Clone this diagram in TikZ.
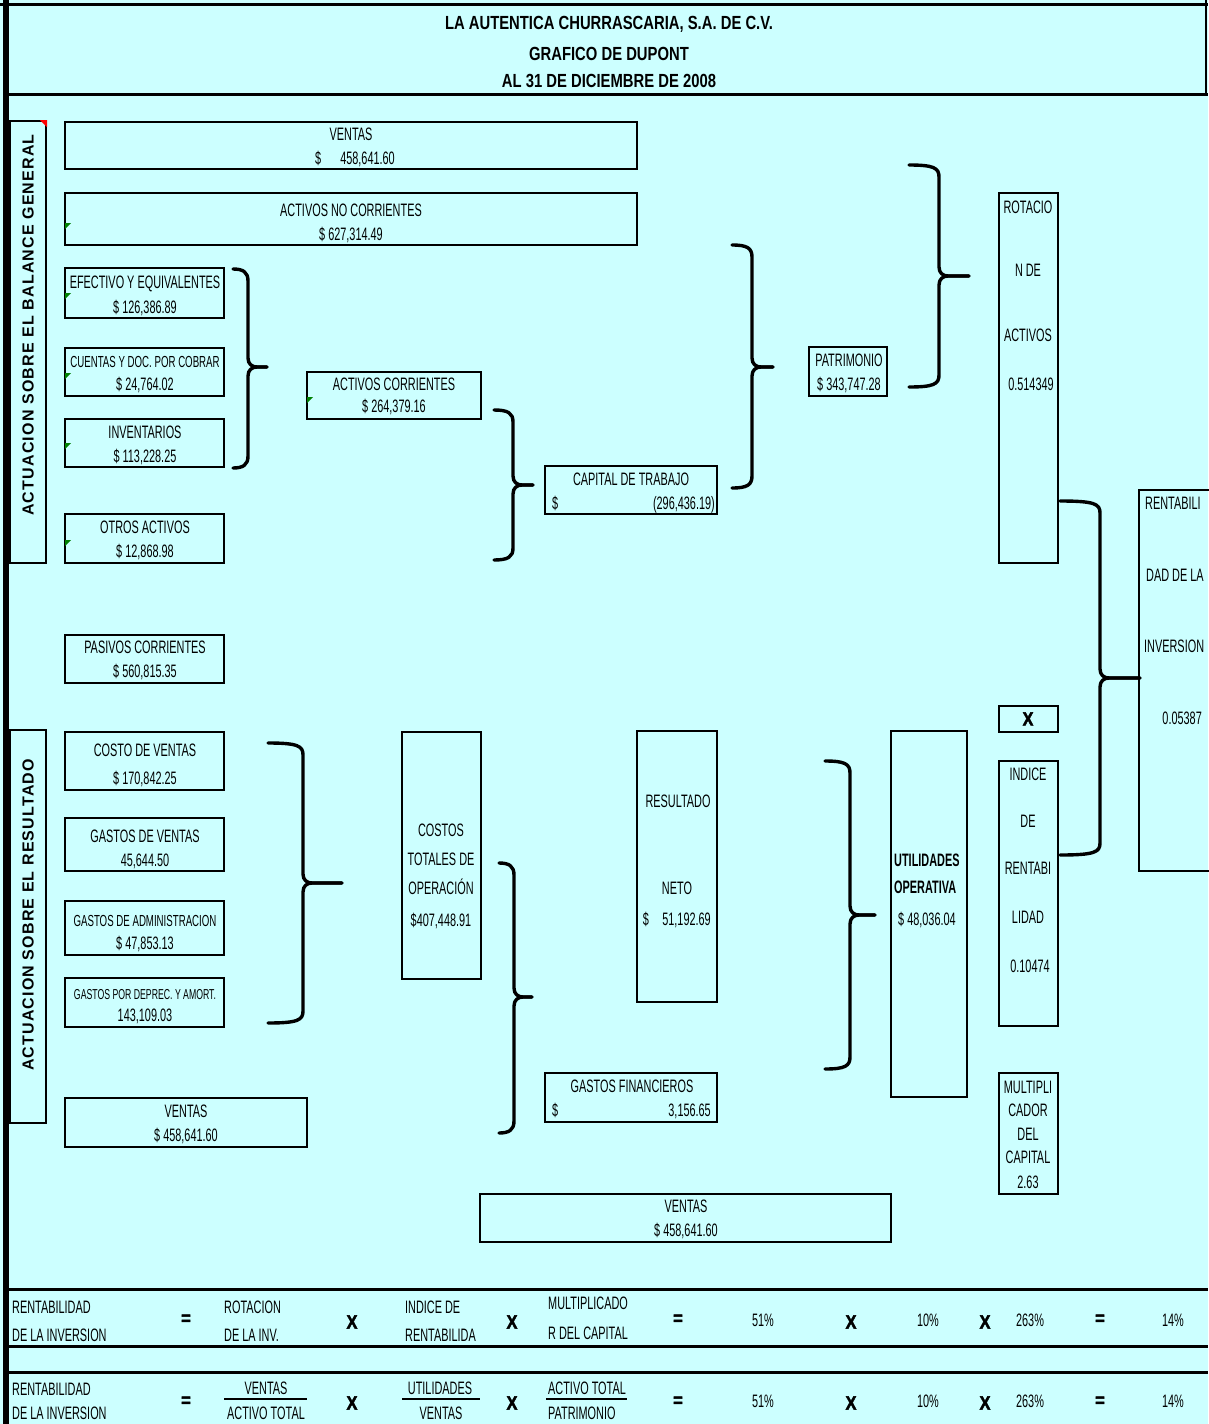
\documentclass[tikz,border=0pt]{standalone}
\usepackage{fontspec}
\setmainfont{Liberation Sans}[FakeStretch=0.605]
\newfontfamily\titlefont{Liberation Sans}[FakeStretch=0.78]
\newfontfamily\xfont{Liberation Sans}[FakeStretch=0.85, FakeBold=2.5]
\newfontfamily\sidefont{Liberation Sans}[LetterSpace=7.3]
\definecolor{bgc}{RGB}{204,255,255}
\tikzset{
  boxst/.style={draw=black, line width=1.2pt, anchor=north west, inner sep=0pt, outer sep=0pt},
  secst/.style={draw=black, line width=2.2pt, anchor=north west, inner sep=0pt, outer sep=0pt},
  txt/.style={inner sep=0pt, font=\fontsize{18}{20}\selectfont},
  smalltxt/.style={font=\fontsize{16}{18}\selectfont},
  tinytxt/.style={font=\fontsize{14.4}{16}\selectfont},
  boldtxt/.style={font=\fontsize{18}{20}\selectfont\bfseries},
  ttl/.style={font={\titlefont\bfseries\fontsize{19}{21}\selectfont}},
  opx/.style={font={\xfont\bfseries\fontsize{19}{21}\selectfont}},
  sidest/.style={inner sep=0pt, rotate=90, font={\sidefont\bfseries\fontsize{16}{18}\selectfont}},
  bracest/.style={line width=3.4pt, line cap=round, line join=round},
  framest/.style={line width=3pt},
  rowline/.style={line width=3pt},
  fracline/.style={line width=1.2pt},
}
\newcommand\bx[5]{\node[boxst, minimum width={(#4)-(#2)}, minimum height={(#5)-(#3)}] (#1) at (#2,#3) {};}
\newcommand\txc[5][]{\node[txt,anchor=base,#1] (#2) at (#3,{#4+6.5}) {#5};}
\newcommand\txl[5][]{\node[txt,anchor=base west,#1] (#2) at (#3,{#4+6.5}) {#5};}
\newcommand\txr[5][]{\node[txt,anchor=base east,#1] (#2) at (#3,{#4+6.5}) {#5};}
% name xl xv xt yt ym yb
\newcommand\cbr[7]{%
  \coordinate (#1) at (#4,#6);
  \draw[bracest] (#2,#5) .. controls ({#3-5},#5) and (#3,{#5+3}) .. (#3,{#5+12}) -- (#3,{#6-9}) .. controls (#3,{#6-3}) and ({#3+4},#6) .. ({#3+9},#6) -- (#1);
  \draw[bracest] (#2,#7) .. controls ({#3-5},#7) and (#3,{#7-3}) .. (#3,{#7-12}) -- (#3,{#6+9}) .. controls (#3,{#6+3}) and ({#3+4},#6) .. ({#3+9},#6) -- (#1);
}
\newcommand\gmark[2]{\fill[green!50!black] (#1,#2) -- ({#1+6},#2) -- (#1,{#2+6}) -- cycle;}
\begin{document}
\begin{tikzpicture}[x=1pt,y=-1pt]
\useasboundingbox (0,0) rectangle (1208,1424);
\fill[bgc] (0,0) rectangle (1208,1424);
% frame
\draw[framest] (0,4) -- (1208,4);
\draw[line width=6pt] (6,0) -- (6,1424);
\draw[framest] (6,94) -- (1208,94);
\draw[line width=2pt] (1206,0) -- (1206,94);
\draw[rowline] (6,1289) -- (1208,1289);
\draw[rowline] (6,1346) -- (1208,1346);
\draw[rowline] (6,1372) -- (1208,1372);
% title
\txc[ttl]{t1}{609}{23}{LA AUTENTICA CHURRASCARIA, S.A. DE C.V.}
\txc[ttl]{t2}{609}{54}{GRAFICO DE DUPONT}
\txc[ttl]{t3}{609}{81}{AL 31 DE DICIEMBRE DE 2008}
% section boxes
\node[secst, minimum width=36, minimum height=442] (secbal) at (10,121) {};
\node[secst, minimum width=36, minimum height=393] (secres) at (10,730) {};
\fill[red] (40,120) -- (47,120) -- (47,127) -- cycle;
\node[sidest] (sidebal) at (28,325) {ACTUACION SOBRE EL BALANCE GENERAL};
\node[sidest] (sideres) at (28,915) {ACTUACION SOBRE EL RESULTADO};
% boxes
\bx{ventas1}{65}{122}{637}{169}
\bx{anc}{65}{193}{637}{245}
\bx{ef}{65}{268}{224}{318}
\bx{cu}{65}{348}{224}{396}
\bx{inv}{65}{419}{224}{467}
\bx{otros}{65}{514}{224}{563}
\bx{ac}{307}{372}{481}{419}
\bx{ct}{545}{466}{717}{514}
\bx{pat}{809}{347}{887}{396}
\bx{rot}{999}{193}{1058}{563}
\bx{rent}{1139}{490}{1215}{871}
\bx{xbox}{999}{706}{1058}{732}
\bx{ind}{999}{761}{1058}{1026}
\bx{mult}{999}{1073}{1058}{1194}
\bx{pas}{65}{635}{224}{683}
\bx{cv}{65}{732}{224}{790}
\bx{gv}{65}{818}{224}{871}
\bx{ga}{65}{901}{224}{955}
\bx{gd}{65}{978}{224}{1027}
\bx{ventas2}{65}{1098}{307}{1147}
\bx{cto}{402}{732}{481}{979}
\bx{rn}{637}{731}{717}{1002}
\bx{uo}{891}{731}{967}{1097}
\bx{gf}{545}{1073}{717}{1122}
\bx{ventas3}{480}{1194}{891}{1242}
% comment marks
\gmark{65}{223}
\gmark{65}{293}
\gmark{65}{373}
\gmark{65}{443}
\gmark{65}{540}
\gmark{307}{397}
% box texts
\txc{v1a}{351}{134}{VENTAS}
\txc{v1b}{355}{158}{\$\hspace{19pt}458,641.60}
\txc{anca}{351}{210}{ACTIVOS NO CORRIENTES}
\txc{ancb}{351}{234}{\$ 627,314.49}
\txc{efa}{145}{282}{EFECTIVO Y EQUIVALENTES}
\txc{efb}{145}{307}{\$ 126,386.89}
\txc[smalltxt]{cua}{145}{361}{CUENTAS Y DOC. POR COBRAR}
\txc{cub}{145}{384}{\$ 24,764.02}
\txc{inva}{145}{432}{INVENTARIOS}
\txc{invb}{145}{456}{\$ 113,228.25}
\txc{ota}{145}{527}{OTROS ACTIVOS}
\txc{otb}{145}{551}{\$ 12,868.98}
\txc{aca}{394}{384}{ACTIVOS CORRIENTES}
\txc{acb}{394}{406}{\$ 264,379.16}
\txc{cta}{631}{479}{CAPITAL DE TRABAJO}
\txl{ctb}{552}{503}{\$}
\txr{ctc}{715}{503}{(296,436.19)}
\txc{pata}{849}{360}{PATRIMONIO}
\txc{patb}{849}{384}{\$ 343,747.28}
\txc{rota}{1028}{207}{ROTACIO}
\txc{rotb}{1028}{270}{N DE}
\txc{rotc}{1028}{335}{ACTIVOS}
\txc{rotd}{1031}{384}{0.514349}
\txl{renta}{1145}{503}{RENTABILI}
\txl{rentb}{1146}{575}{DAD DE LA}
\txl{rentc}{1144}{646}{INVERSION}
\txr{rentd}{1202}{718}{0.05387}
\txc[opx]{xx}{1028}{719}{X}
\txc{inda}{1028}{774}{INDICE}
\txc{indb}{1028}{821}{DE}
\txc{indc}{1028}{868}{RENTABI}
\txc{indd}{1028}{917}{LIDAD}
\txc{inde}{1030}{966}{0.10474}
\txc{mua}{1028}{1087}{MULTIPLI}
\txc{mub}{1028}{1110}{CADOR}
\txc{muc}{1028}{1134}{DEL}
\txc{mud}{1028}{1157}{CAPITAL}
\txc{mue}{1028}{1182}{2.63}
\txc{pasa}{145}{647}{PASIVOS CORRIENTES}
\txc{pasb}{145}{671}{\$ 560,815.35}
\txc{cva}{145}{750}{COSTO DE VENTAS}
\txc{cvb}{145}{778}{\$ 170,842.25}
\txc{gva}{145}{836}{GASTOS DE VENTAS}
\txc{gvb}{145}{860}{45,644.50}
\txc[smalltxt]{gaa}{145}{920}{GASTOS DE ADMINISTRACION}
\txc{gab}{145}{943}{\$ 47,853.13}
\txc[tinytxt]{gda}{145}{993}{GASTOS POR DEPREC. Y AMORT.}
\txc{gdb}{145}{1015}{143,109.03}
\txc{v2a}{186}{1111}{VENTAS}
\txc{v2b}{186}{1135}{\$ 458,641.60}
\txc{ctoa}{441}{830}{COSTOS}
\txc{ctob}{441}{859}{TOTALES DE}
\txc{ctoc}{441}{888}{OPERACIÓN}
\txc{ctod}{441}{920}{\$407,448.91}
\txc{rna}{678}{801}{RESULTADO}
\txc{rnb}{677}{888}{NETO}
\txc{rnc}{646}{919}{\$}
\txr{rnd}{711}{919}{51,192.69}
\txl[boldtxt]{uoa}{894}{860}{UTILIDADES}
\txl[boldtxt]{uob}{894}{887}{OPERATIVA}
\txl{uoc}{898}{919}{\$ 48,036.04}
\txc{gfa}{632}{1086}{GASTOS FINANCIEROS}
\txl{gfb}{552}{1110}{\$}
\txr{gfc}{711}{1110}{3,156.65}
\txc{v3a}{686}{1206}{VENTAS}
\txc{v3b}{686}{1230}{\$ 458,641.60}
% braces
\cbr{b1}{233}{248}{267}{269}{367}{468}
\cbr{b2}{494}{513}{533}{410}{485}{560}
\cbr{b3}{732}{752}{773}{245}{367}{488}
\cbr{b4}{909}{939}{969}{165}{276}{387}
\cbr{b5}{1060}{1100}{1140}{501}{678}{855}
\cbr{b6}{268}{303}{342}{743}{883}{1023}
\cbr{b7}{499}{514}{532}{863}{997}{1133}
\cbr{b8}{825}{850}{875}{761}{915}{1069}
% bottom row 1
\txl{r1a}{12}{1307}{RENTABILIDAD}
\txl{r1b}{12}{1335}{DE LA INVERSION}
\txc[opx]{r1e1}{186}{1318}{=}
\txl{r1c}{224}{1307}{ROTACION}
\txl{r1d}{224}{1335}{DE LA INV.}
\txc[opx]{r1x1}{352}{1322}{X}
\txl{r1f}{405}{1307}{INDICE DE}
\txl{r1g}{405}{1335}{RENTABILIDA}
\txc[opx]{r1x2}{512}{1322}{X}
\txl{r1h}{548}{1303}{MULTIPLICADO}
\txl{r1i}{548}{1333}{R DEL CAPITAL}
\txc[opx]{r1e2}{678}{1318}{=}
\txc{r1j}{763}{1320}{51\%}
\txc[opx]{r1x3}{851}{1322}{X}
\txc{r1k}{928}{1320}{10\%}
\txc[opx]{r1x4}{985}{1322}{X}
\txc{r1l}{1030}{1320}{263\%}
\txc[opx]{r1e3}{1100}{1318}{=}
\txc{r1m}{1173}{1320}{14\%}
% bottom row 2
\txl{r2a}{12}{1389}{RENTABILIDAD}
\txl{r2b}{12}{1413}{DE LA INVERSION}
\txc[opx]{r2e1}{186}{1400}{=}
\txc{r2c}{266}{1388}{VENTAS}
\draw[fracline] (224,1399) -- (307,1399);
\txc{r2d}{266}{1413}{ACTIVO TOTAL}
\txc[opx]{r2x1}{352}{1403}{X}
\txc{r2f}{440}{1388}{UTILIDADES}
\draw[fracline] (402,1399) -- (480,1399);
\txc{r2g}{441}{1413}{VENTAS}
\txc[opx]{r2x2}{512}{1403}{X}
\txl{r2h}{548}{1388}{ACTIVO TOTAL}
\draw[fracline] (546,1399) -- (627,1399);
\txl{r2i}{548}{1413}{PATRIMONIO}
\txc[opx]{r2e2}{678}{1400}{=}
\txc{r2j}{763}{1401}{51\%}
\txc[opx]{r2x3}{851}{1403}{X}
\txc{r2k}{928}{1401}{10\%}
\txc[opx]{r2x4}{985}{1403}{X}
\txc{r2l}{1030}{1401}{263\%}
\txc[opx]{r2e3}{1100}{1400}{=}
\txc{r2m}{1173}{1401}{14\%}
\end{tikzpicture}
\end{document}
